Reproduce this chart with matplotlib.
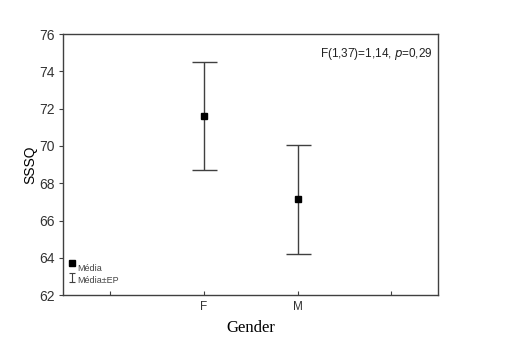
import numpy as np
import matplotlib; matplotlib.use('Agg')
import matplotlib.pyplot as plt

groups = ['F', 'M']
positions = [1, 2]
means = [71.63, 67.13]
se = [2.9, 2.92]
yticks = [62, 64, 66, 68, 70, 72, 74, 76]

C_LINE = '#404040'

fig = plt.figure(figsize=(5.05, 3.59), dpi=100)
ax = fig.add_axes([0.1248, 0.178, 0.743, 0.727])

ax.errorbar(positions, means, yerr=se, fmt='none', ecolor=C_LINE,
            elinewidth=1.0, capsize=9, capthick=1.0)
ax.plot(positions, means, 's', color='black', ms=5)

ax.set_xlim(-0.5, 3.5)
ax.set_ylim(62, 76)
ax.set_xticks([0, 1, 2, 3])
ax.set_xticklabels(['', 'F', 'M', ''], fontsize=8.5, family='Liberation Sans',
                   color='#333333')
ax.tick_params(axis='x', direction='in', length=3, color=C_LINE, pad=4)
ax.set_yticks(yticks)
ax.set_yticklabels([str(v) for v in yticks], fontsize=10, family='Liberation Sans',
                   color='#333333')
ax.tick_params(axis='y', direction='out', length=3, color=C_LINE, pad=3)
for s in ax.spines.values():
    s.set_color(C_LINE); s.set_linewidth(1.0)

ax.set_ylabel('SSSQ', fontsize=10, family='Liberation Sans', labelpad=1)
ax.set_xlabel('Gender', fontsize=12, family='Liberation Serif', labelpad=5)

ax.text(0.985, 0.955, r'F(1,37)=1,14, $\it{p}$=0,29', transform=ax.transAxes,
        ha='right', va='top', fontsize=8.5, family='Liberation Sans', color='#222222')

# legend
ax.plot([-0.4], [63.7], 's', color='black', ms=4, clip_on=False)
ax.text(-0.35, 63.45, 'Média', fontsize=6.5, family='Liberation Sans', color='#444444',
        va='center')
ax.errorbar([-0.4], [62.95], yerr=[0.24], fmt='none', ecolor=C_LINE,
            elinewidth=0.8, capsize=2.5, capthick=0.8)
ax.text(-0.35, 62.8, 'Média±EP', fontsize=6.5, family='Liberation Sans', color='#444444',
        va='center')

plt.savefig('out.png', dpi=100, facecolor='white')
